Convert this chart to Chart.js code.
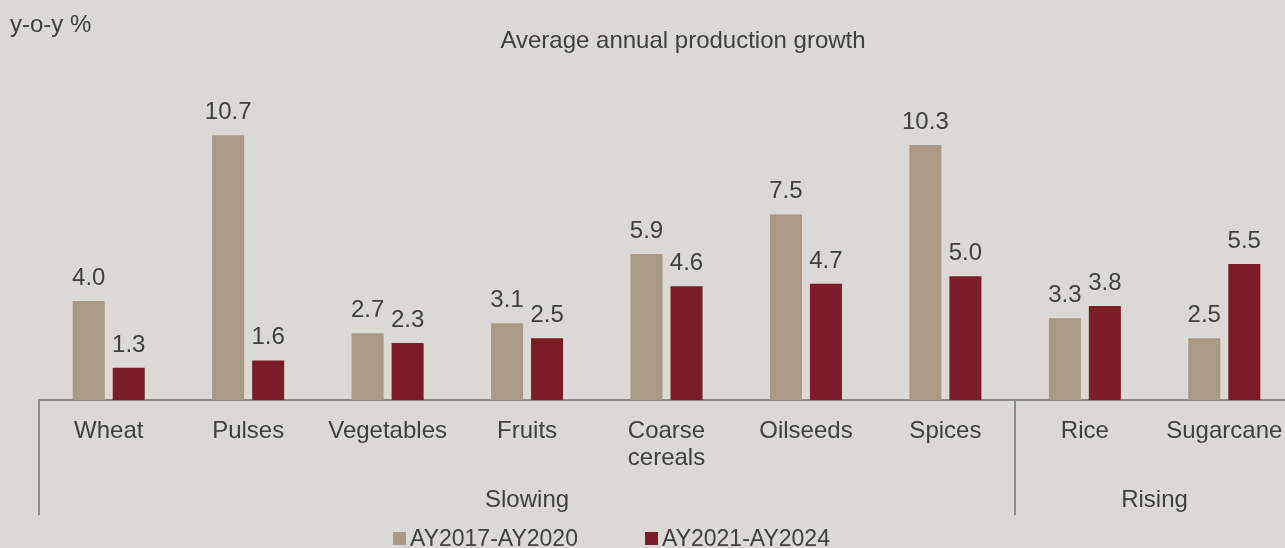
<!DOCTYPE html>
<html>
<head>
<meta charset="utf-8">
<script src="https://cdn.jsdelivr.net/npm/chart.js@4.4.1/dist/chart.umd.min.js"></script>
<style>
  html, body { margin: 0; padding: 0; background: #DAD9D5; overflow: hidden; }
  canvas { display: block; }
</style>
</head>
<body>
<canvas id="c" width="1294" height="548"></canvas>
<script>
const categories = ['Wheat', 'Pulses', 'Vegetables', 'Fruits', ['Coarse', 'cereals'], 'Oilseeds', 'Spices', 'Rice', 'Sugarcane'];
const series1Label = 'AY2017-AY2020';
const series2Label = 'AY2021-AY2024';
const series1 = [4.0, 10.7, 2.7, 3.1, 5.9, 7.5, 10.3, 3.3, 2.5];
const series2 = [1.3, 1.6, 2.3, 2.5, 4.6, 4.7, 5.0, 3.8, 5.5];
const groupNames = ['Slowing', 'Rising'];
const groupCounts = [7, 2];
const titleText = 'Average annual production growth';
const unitText = 'y-o-y %';

const FONT = '"Liberation Sans", Arial, sans-serif';
const FS = 24;
const LFS = 23;
const TXT = '#404040';
const C1 = '#A89A85';
const C2 = '#7B1C28';
const AXIS = '#8C8C8C';

const extras = {
  id: 'extras',
  afterDraw(chart) {
    const ctx = chart.ctx;
    const xs = chart.scales.x;
    ctx.save();
    ctx.font = FS + 'px ' + FONT;
    ctx.fillStyle = TXT;
    ctx.textBaseline = 'alphabetic';
    // unit label and title
    ctx.textAlign = 'left';
    ctx.fillText(unitText, 10, 32);
    ctx.textAlign = 'center';
    ctx.fillText(titleText, 683, 48);
    // data labels
    chart.data.datasets.forEach((ds, di) => {
      const meta = chart.getDatasetMeta(di);
      meta.data.forEach((bar, i) => {
        ctx.textAlign = 'center';
        ctx.fillText(ds.data[i].toFixed(1), bar.x, bar.y - 16);
      });
    });
    // group separators and labels
    const n = categories.length;
    const step = (xs.right - xs.left) / n;
    const axisY = xs.top;
    ctx.strokeStyle = AXIS;
    ctx.lineWidth = 2;
    let start = 0;
    const bounds = [xs.left];
    groupCounts.forEach(c => { start += c; bounds.push(xs.left + start * step); });
    for (let b = 0; b < bounds.length - 1; b++) {
      const bx = Math.round(bounds[b]);
      ctx.beginPath();
      ctx.moveTo(bx, axisY);
      ctx.lineTo(bx, axisY + 115);
      ctx.stroke();
    }
    ctx.textAlign = 'center';
    groupNames.forEach((g, gi) => {
      ctx.fillText(g, (bounds[gi] + bounds[gi + 1]) / 2, 507);
    });
    // legend
    ctx.font = LFS + 'px ' + FONT;
    const items = [[series1Label, C1, 393], [series2Label, C2, 645]];
    items.forEach(([lab, col, lx]) => {
      ctx.fillStyle = col;
      ctx.fillRect(lx, 532, 13, 13);
      ctx.fillStyle = TXT;
      ctx.textAlign = 'left';
      ctx.fillText(lab, lx + 17, 546);
    });
    ctx.restore();
  }
};

new Chart(document.getElementById('c'), {
  type: 'bar',
  data: {
    labels: categories,
    datasets: [
      { label: series1Label, data: series1, backgroundColor: C1, borderWidth: 0, barPercentage: 0.8, categoryPercentage: 0.574 },
      { label: series2Label, data: series2, backgroundColor: C2, borderWidth: 0, barPercentage: 0.8, categoryPercentage: 0.574 }
    ]
  },
  options: {
    responsive: false,
    animation: false,
    layout: { padding: { left: 39, right: 0, top: 103, bottom: 0 } },
    plugins: { legend: { display: false }, title: { display: false }, tooltip: { enabled: false } },
    scales: {
      x: {
        grid: { display: false, drawTicks: false },
        border: { display: true, color: AXIS, width: 2 },
        ticks: { color: TXT, font: { family: FONT, size: FS, lineHeight: 1.16 }, padding: 17, maxRotation: 0, autoSkip: false },
        afterFit(scale) { scale.height = 148; scale.paddingLeft = 0; scale.paddingRight = 0; }
      },
      y: {
        display: false,
        min: 0,
        max: 12
      }
    }
  },
  plugins: [extras]
});
</script>
</body>
</html>
